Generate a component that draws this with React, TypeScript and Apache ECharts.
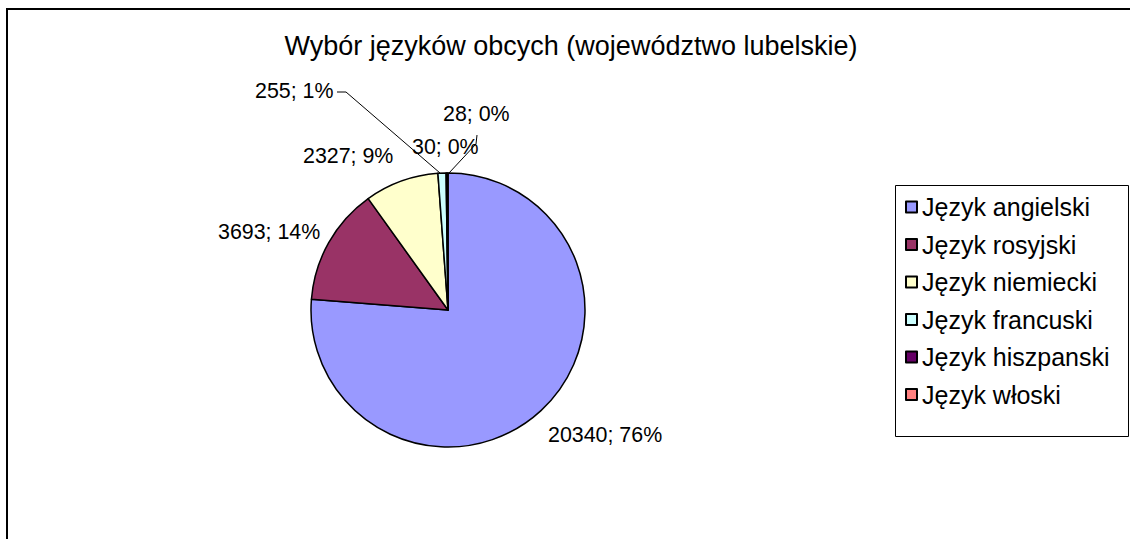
import React, { useEffect, useRef } from 'react';
import * as echarts from 'echarts';

const categories = ['Język angielski', 'Język rosyjski', 'Język niemiecki', 'Język francuski', 'Język hiszpanski', 'Język włoski'];
const values = [20340, 3693, 2327, 255, 30, 28];
const colors = ['#9999FF', '#993366', '#FFFFCC', '#CCFFFF', '#660066', '#FF8080'];
const titleText = 'Wybór języków obcych (województwo lubelskie)';

const FONT = '"Liberation Sans", Arial, sans-serif';

// label placement (layout only)
const labelSpots: { x: number; y: number; line?: number[][] }[] = [
  { x: 548, y: 435 },
  { x: 218, y: 232 },
  { x: 303, y: 156 },
  { x: 255, y: 91, line: [[337, 92], [346, 92], [440, 173]] },
  { x: 412, y: 147 },
  { x: 443, y: 114, line: [[477, 135], [476, 144], [449, 173]] },
];

export default function App() {
  const ref = useRef<HTMLDivElement>(null);
  useEffect(() => {
    if (!ref.current) return;
    const chart = echarts.init(ref.current, null, { renderer: 'svg' });
    const data = categories.map((name, i) => ({
      name,
      value: values[i],
      itemStyle: { color: colors[i] },
      labelLine: { show: !!labelSpots[i].line },
    }));
    chart.setOption({
      animation: false,
      backgroundColor: '#fff',
      graphic: [
        {
          type: 'rect',
          shape: { x: 7, y: 9, width: 1400, height: 800 },
          style: { fill: 'none', stroke: '#000', lineWidth: 2 },
          silent: true,
        },
        {
          type: 'rect',
          shape: { x: 895.5, y: 185.5, width: 233, height: 251 },
          style: { fill: 'none', stroke: '#000', lineWidth: 1 },
          silent: true,
        },
        {
          type: 'text',
          x: 571,
          y: 46,
          style: {
            text: titleText,
            fontSize: 27,
            fontFamily: FONT,
            fill: '#000',
            align: 'center',
            verticalAlign: 'middle',
          },
        },
      ],
      legend: {
        data: categories,
        orient: 'vertical',
        left: 905,
        top: 192,
        padding: 0,
        itemWidth: 11,
        itemHeight: 11,
        itemGap: 7.5,
        icon: 'rect',
        selectedMode: false,
        textStyle: { fontSize: 25, lineHeight: 30, color: '#000', fontFamily: FONT },
      },
      series: [
        {
          type: 'pie',
          center: [448, 310],
          radius: 137,
          startAngle: 90,
          clockwise: true,
          silent: true,
          itemStyle: { borderColor: '#000', borderWidth: 1.5 },
          label: {
            show: true,
            position: 'outside',
            color: '#000',
            fontSize: 21.4,
            fontFamily: FONT,
            formatter: (p: any) => `${p.value}; ${Math.round(p.percent)}%`,
          },
          labelLine: { show: false, lineStyle: { color: '#000', width: 1 } },
          labelLayout: (params: any) => {
            const s = labelSpots[params.dataIndex];
            const res: any = { x: s.x, y: s.y, align: 'left', verticalAlign: 'middle' };
            if (s.line) res.labelLinePoints = s.line;
            return res;
          },
          data,
        },
      ],
    });
    return () => chart.dispose();
  }, []);
  return (
    <div
      ref={ref}
      style={{ position: 'absolute', left: 0, top: 0, width: 1130, height: 539 }}
    />
  );
}
